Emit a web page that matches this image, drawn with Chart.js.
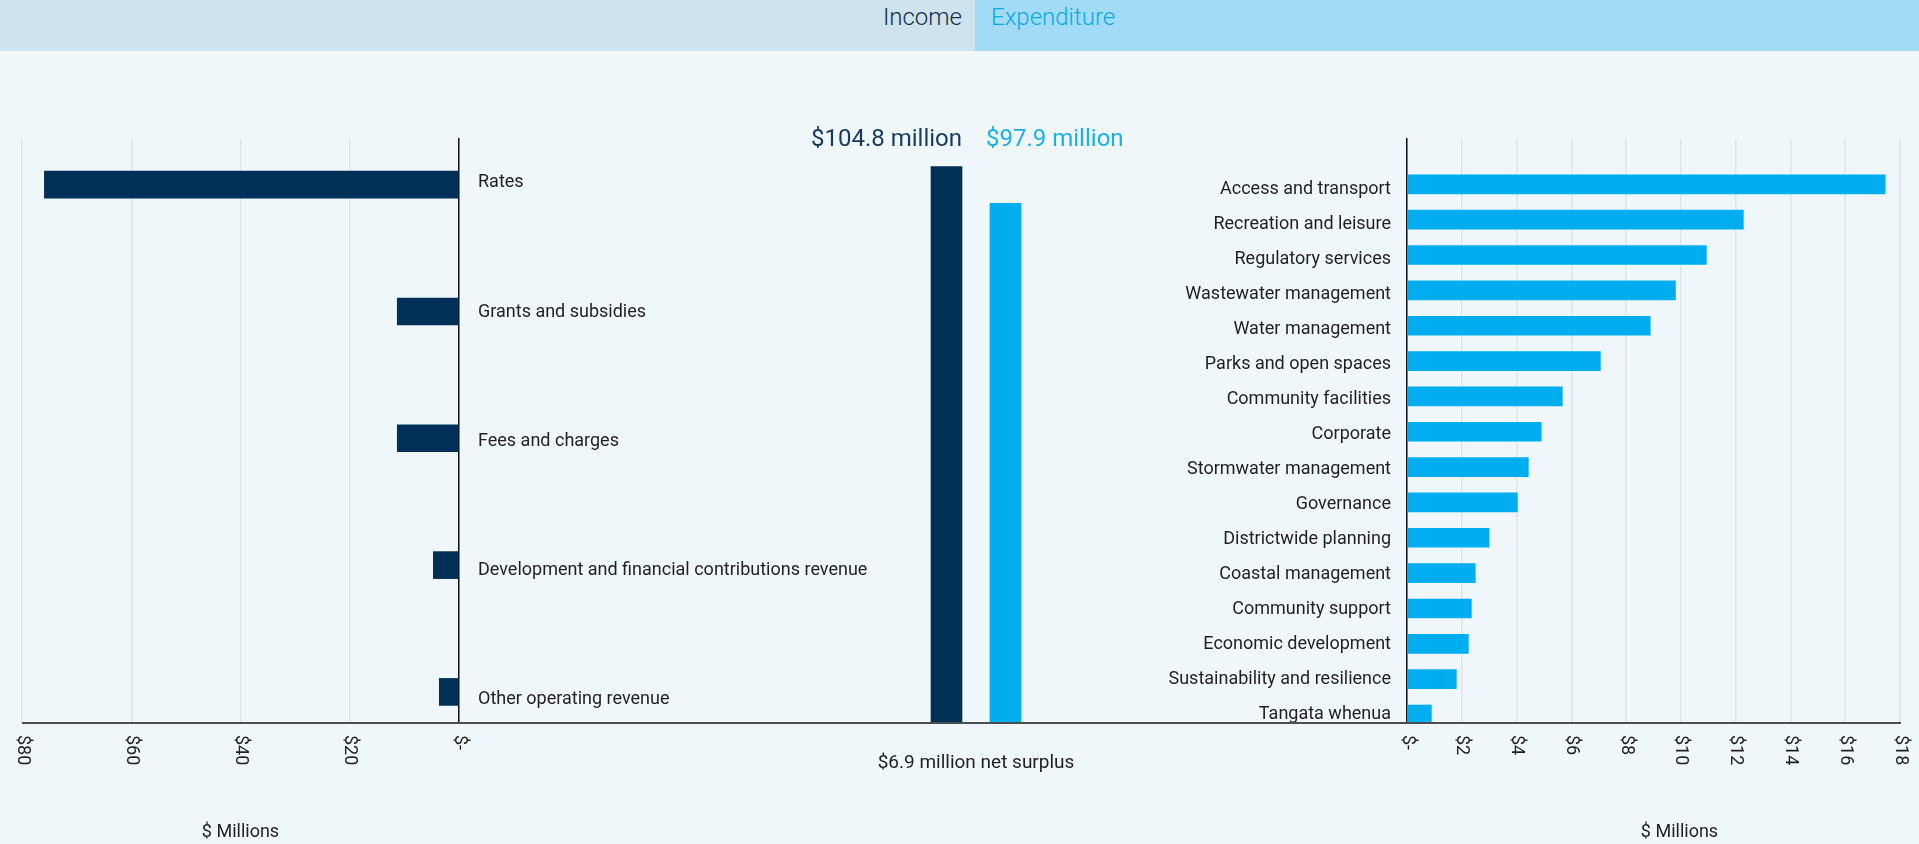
<!DOCTYPE html>
<html>
<head>
<meta charset="utf-8">
<script src="https://cdn.jsdelivr.net/npm/chart.js"></script>
<style>
  html, body { margin: 0; padding: 0; }
  body { width: 1919px; height: 844px; background: #eff7fa; position: relative; overflow: hidden; font-family: Roboto, sans-serif; }
  .band { position: absolute; top: 0; height: 51px; font-weight: 300; font-size: 24px; line-height: 35px; box-sizing: border-box; }
  .band.left { left: 0; width: 975px; background: #cde4ee; color: #12304f; text-align: right; padding-right: 13px; }
  .band.right { left: 975px; width: 944px; background: #a2dbf5; color: #0aa9e8; padding-left: 16px; }
  canvas { position: absolute; top: 0; }
  #incomeChart { left: 0; }
  #totalChart { left: 760px; }
  #spendChart { left: 1035px; }
  .baseline { position: absolute; left: 22px; top: 722px; width: 1879px; height: 2px; background: #4a4f54; }
</style>
</head>
<body>
<div class="band left">Income</div>
<div class="band right">Expenditure</div>
<canvas id="incomeChart" width="917" height="844"></canvas>
<canvas id="totalChart" width="430" height="844"></canvas>
<canvas id="spendChart" width="884" height="844"></canvas>
<div class="baseline"></div>
<script>
// income side ($ millions)
const incomeCategories = ['Rates', 'Grants and subsidies', 'Fees and charges',
    'Development and financial contributions revenue', 'Other operating revenue'];
const incomeValues = [75.9, 11.3, 11.3, 4.7, 3.6];

// expenditure side ($ millions)
const spendCategories = ['Access and transport', 'Recreation and leisure', 'Regulatory services',
    'Wastewater management', 'Water management', 'Parks and open spaces', 'Community facilities',
    'Corporate', 'Stormwater management', 'Governance', 'Districtwide planning', 'Coastal management',
    'Community support', 'Economic development', 'Sustainability and resilience', 'Tangata whenua'];
const spendValues = [17.46, 12.28, 10.93, 9.80, 8.88, 7.06, 5.67, 4.90, 4.43, 4.03, 3.00, 2.49, 2.35, 2.24, 1.80, 0.89];

// totals in the middle
const totalLabels = ['Income', 'Expenditure'];
const totalValues = [104.8, 97.9];

const NAVY = '#003057';
const BLUE = '#00aeef';
const INK = '#231f20';
const GRID = '#dde5e9';

Chart.defaults.font.family = 'Roboto';
Chart.defaults.font.size = 18;
Chart.defaults.color = INK;
Chart.defaults.animation = false;

const money = v => v === 0 ? '$-' : '$' + v;

// x tick labels read top to bottom under the axis, plus the axis title
const rotatedTicks = {
    id: 'rotatedTicks',
    afterDraw(chart, args, opts) {
        const s = chart.scales.x;
        const ctx = chart.ctx;
        ctx.save();
        ctx.font = '18px Roboto';
        ctx.fillStyle = INK;
        ctx.textAlign = 'left';
        ctx.textBaseline = 'middle';
        s.ticks.forEach(t => {
            ctx.save();
            ctx.translate(s.getPixelForValue(t.value), s.top + 12);
            ctx.rotate(Math.PI / 2);
            ctx.fillText(money(t.value), 0, 0);
            ctx.restore();
        });
        ctx.textAlign = 'center';
        ctx.fillText('$ Millions', (s.left + s.right) / 2 + (opts.titleShift || 0), s.top + 109);
        ctx.restore();
    }
};

// keeps a linear index axis on the given range, one tick per category
const pinAxis = (cats, lo, hi) => ({
    afterDataLimits: s => { s.min = lo; s.max = hi; },
    afterBuildTicks: s => {
        s.ticks = cats.map((c, i) => ({ value: i }));
        s.min = lo; s.max = hi;
    }
});

function sideChart(id, cats, values, color, opts) {
    return new Chart(document.getElementById(id), {
        type: 'bar',
        data: {
            datasets: [{
                data: values.map((v, i) => ({ x: v, y: i })),
                backgroundColor: color,
                barThickness: opts.bar,
                yAxisID: 'y'
            }]
        },
        options: {
            responsive: false,
            indexAxis: 'y',
            layout: { padding: { top: 139, left: opts.padLeft, right: opts.padRight, bottom: 0 } },
            plugins: {
                legend: { display: false }, tooltip: { enabled: false },
                rotatedTicks: { titleShift: opts.titleShift }
            },
            scales: {
                x: {
                    type: 'linear', reverse: opts.reverse, min: 0, max: opts.max,
                    ticks: { display: false, stepSize: opts.step },
                    grid: { color: GRID, lineWidth: 1.5, drawTicks: false },
                    border: { display: false },
                    afterFit: s => { s.height = 121; }
                },
                // bar positions
                y: Object.assign({
                    type: 'linear', display: false, reverse: true, offset: false
                }, pinAxis(cats, opts.barMin, opts.barMax)),
                // category labels and the vertical axis line
                yl: Object.assign({
                    type: 'linear', position: opts.side, reverse: true, offset: false,
                    grid: { display: false, drawTicks: false },
                    border: { display: true, color: '#111', width: 1.5 },
                    ticks: {
                        autoSkip: false, padding: opts.labelPad,
                        color: INK, font: { size: 18 },
                        callback: v => cats[v] ?? ''
                    },
                    afterFit: s => { s.width = opts.axisWidth; }
                }, pinAxis(cats, opts.labelMin, opts.labelMax))
            }
        },
        plugins: [rotatedTicks]
    });
}

sideChart('incomeChart', incomeCategories, incomeValues, NAVY, {
    bar: 27, padLeft: 22, padRight: 0, reverse: true, max: 80, step: 20,
    side: 'right', barMin: -0.36, barMax: 4.245, labelMin: -0.34, labelMax: 4.178,
    labelPad: 19, axisWidth: 458, titleShift: 0
});

sideChart('spendChart', spendCategories, spendValues, BLUE, {
    bar: 19, padLeft: 0, padRight: 19, reverse: false, max: 18, step: 2,
    side: 'left', barMin: -1.283, barMax: 15.24, labelMin: -1.4286, labelMax: 15.257,
    labelPad: 16, axisWidth: 372, titleShift: 26
});

// totals labels and net surplus note
const totalsText = {
    id: 'totalsText',
    afterDatasetsDraw(chart) {
        const ctx = chart.ctx;
        const bars = chart.getDatasetMeta(0).data;
        const area = chart.chartArea;
        ctx.save();
        ctx.font = '24px Roboto';
        ctx.textBaseline = 'alphabetic';
        ctx.fillStyle = '#173a5e';
        ctx.textAlign = 'right';
        ctx.fillText('$' + totalValues[0] + ' million', bars[0].x + bars[0].width / 2, area.top + 7);
        ctx.fillStyle = '#1ab0ea';
        ctx.textAlign = 'left';
        ctx.fillText('$' + totalValues[1] + ' million', bars[1].x - bars[1].width / 2 - 4, area.top + 7);
        ctx.font = '19px Roboto';
        ctx.fillStyle = INK;
        ctx.textAlign = 'center';
        ctx.textBaseline = 'middle';
        const surplus = (totalValues[0] - totalValues[1]).toFixed(1);
        ctx.fillText('$' + surplus + ' million net surplus', (area.left + area.right) / 2, area.bottom + 40);
        ctx.restore();
    }
};

new Chart(document.getElementById('totalChart'), {
    type: 'bar',
    data: {
        labels: totalLabels,
        datasets: [{
            data: totalValues,
            backgroundColor: [NAVY, BLUE],
            barThickness: 31
        }]
    },
    options: {
        responsive: false,
        layout: { padding: { top: 139, bottom: 121, left: 157, right: 155 } },
        plugins: { legend: { display: false }, tooltip: { enabled: false } },
        scales: {
            x: { type: 'category', offset: true, display: false },
            y: { type: 'linear', min: 0, max: 110, display: false }
        }
    },
    plugins: [totalsText]
});
</script>
</body>
</html>
